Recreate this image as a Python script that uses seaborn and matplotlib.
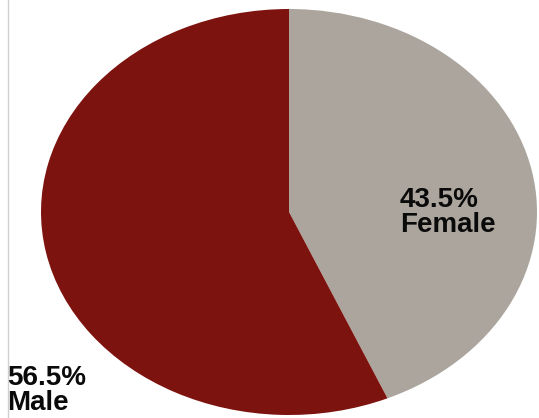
import matplotlib
matplotlib.use("Agg")
import matplotlib.pyplot as plt
import seaborn as sns
from matplotlib.lines import Line2D

# data
genders = ["Female", "Male"]
shares = [43.5, 56.5]
colors = ["#aba59e", "#7d130e"]

sns.set_theme(style="white")
plt.rcParams["font.family"] = ["Liberation Sans", "DejaVu Sans"]

W, H = 539, 418
fig = plt.figure(figsize=(W / 100, H / 100), dpi=100)

# the pie is stretched into an ellipse, so the axes box is the ellipse box
left, right, top, bottom = 41, 537, 9, 415
ax = fig.add_axes([left / W, 1 - bottom / H, (right - left) / W, (bottom - top) / H])
ax.pie(shares, colors=sns.color_palette(colors), startangle=90, counterclock=False,
       radius=1, wedgeprops=dict(linewidth=0))
ax.set_aspect("auto")
ax.set_xlim(-1, 1)
ax.set_ylim(-1, 1)
ax.axis("off")

# labels
fig.text(400 / W, 1 - 187 / H, f"{shares[0]}%\n{genders[0]}", ha="left", va="top",
         fontsize=20, fontweight="bold", color="#0a0a0a", linespacing=0.93)
fig.text(7 / W, 1 - 365 / H, f"{shares[1]}%\n{genders[1]}", ha="left", va="top",
         fontsize=20, fontweight="bold", color="#0a0a0a", linespacing=0.93)

# thin border line on the left
fig.add_artist(Line2D([8 / W, 8 / W], [0, 1], color="#d0d0d0", linewidth=1))

fig.savefig("out.png", dpi=100)
